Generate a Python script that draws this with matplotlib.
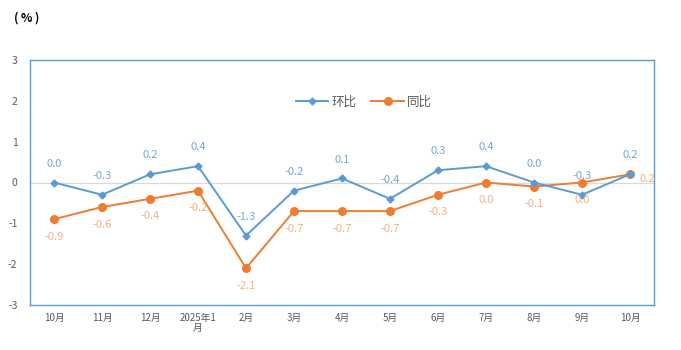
import matplotlib
matplotlib.use("Agg")
import matplotlib.pyplot as plt
from matplotlib.legend_handler import HandlerLine2D

plt.rcParams['font.family'] = ['Noto Sans CJK SC', 'DejaVu Sans']
plt.rcParams['axes.unicode_minus'] = False

months = ['10月', '11月', '12月', '2025年1\n月', '2月', '3月', '4月', '5月',
          '6月', '7月', '8月', '9月', '10月']
mom = [0.0, -0.3, 0.2, 0.4, -1.3, -0.2, 0.1, -0.4, 0.3, 0.4, 0.0, -0.3, 0.2]
yoy = [-0.9, -0.6, -0.4, -0.2, -2.1, -0.7, -0.7, -0.7, -0.3, 0.0, -0.1, 0.0, 0.2]

blue = '#5B9BD5'
orange = '#ED7D31'
blue_lbl = '#6FA8DC'
orange_lbl = '#F4B183'


class EndMarker(HandlerLine2D):
    # marker sits at the right end of the legend line, like Excel
    def get_xdata(self, legend, xdescent, ydescent, width, height, fontsize):
        xdata = [-xdescent, -xdescent + width]
        return xdata, [-xdescent + width]


fig = plt.figure(figsize=(6.81, 3.5), dpi=100)
ax = fig.add_axes([30 / 681, 1 - 305 / 350, 624 / 681, 245 / 350])

x = list(range(len(months)))
ax.axhline(0, color='#D9D9D9', lw=0.9, zorder=1)
l1, = ax.plot(x, mom, color=blue, lw=1.4, marker='D', ms=3.5, label='环比', zorder=3)
l2, = ax.plot(x, yoy, color=orange, lw=1.4, marker='o', ms=5.5, label='同比', zorder=2)

for i, v in enumerate(mom):
    ax.annotate(f'{v:.1f}', (i, v), xytext=(0, 10), textcoords='offset points',
                ha='center', va='bottom', color=blue_lbl, fontsize=8)
for i, v in enumerate(yoy):
    if i == len(yoy) - 1:
        ax.annotate(f'{v:.1f}', (i, v), xytext=(7, -3), textcoords='offset points',
                    ha='left', va='center', color=orange_lbl, fontsize=8)
    else:
        ax.annotate(f'{v:.1f}', (i, v), xytext=(0, -9), textcoords='offset points',
                    ha='center', va='top', color=orange_lbl, fontsize=8)

ax.set_xlim(-0.5, len(months) - 0.5)
ax.set_ylim(-3, 3)
ax.set_yticks(range(-3, 4))
ax.set_xticks(x)
ax.set_xticklabels(months, fontsize=7, color='#595959', linespacing=1.0)
ax.tick_params(axis='y', labelsize=7.5, labelcolor='#595959', length=0, pad=9)
ax.tick_params(axis='x', length=0, pad=6)
for s in ax.spines.values():
    s.set_color(blue)
    s.set_linewidth(1.0)

ax.legend(handles=[l1, l2], loc='center', bbox_to_anchor=(0.535, 0.829), ncol=2,
          frameon=False, fontsize=9, handlelength=2.6, columnspacing=1.2,
          handletextpad=0.25, labelcolor='#595959', numpoints=1,
          handler_map={l1: EndMarker(), l2: EndMarker()})

fig.text(14 / 681, 1 - 18 / 350, '( % )', fontsize=8.5, fontweight='bold',
         va='center', ha='left', color='black')

fig.savefig('out.png', dpi=100)
